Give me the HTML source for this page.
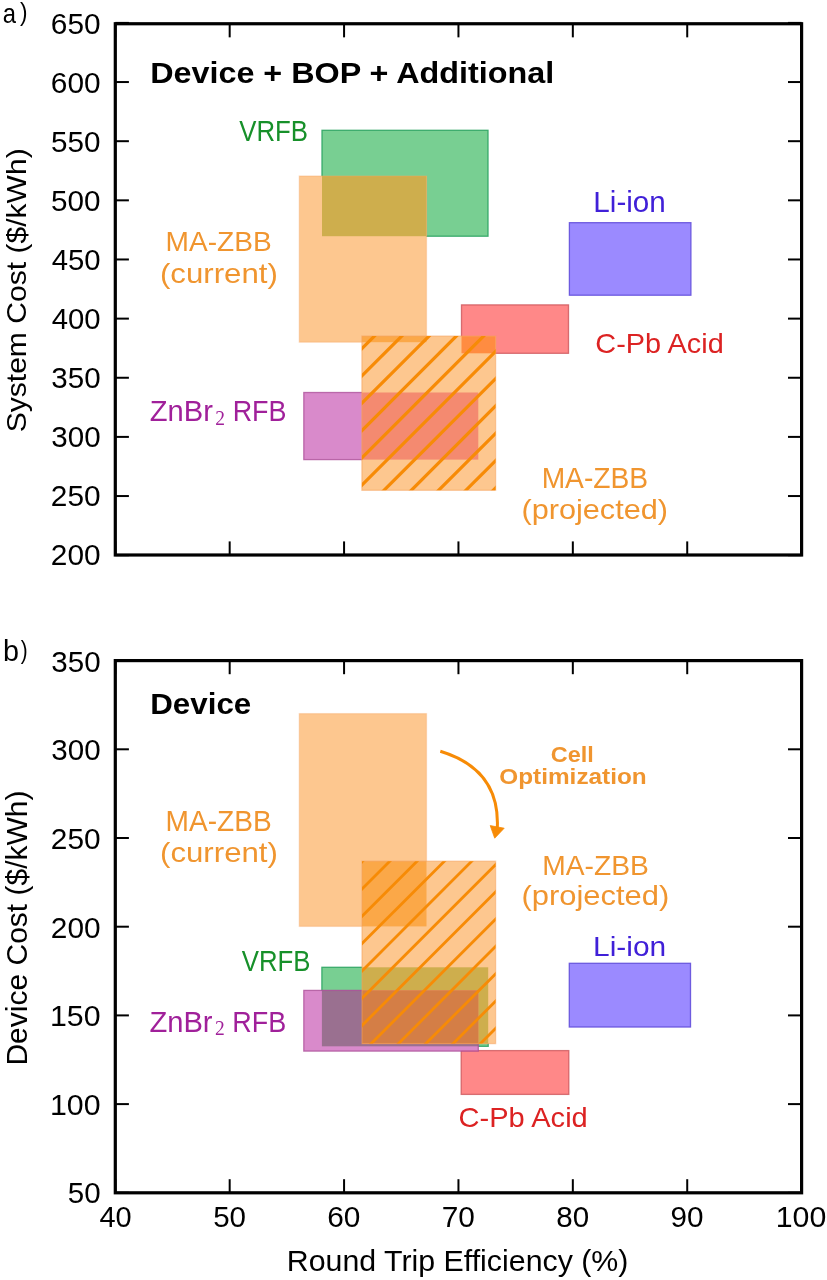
<!DOCTYPE html>
<html><head><meta charset="utf-8"><title>Cost vs Round Trip Efficiency</title>
<style>html,body{margin:0;padding:0;background:#fff;} svg{display:block;filter:blur(0.45px);}</style>
</head><body>
<svg width="827" height="1280" viewBox="0 0 827 1280">
<rect width="827" height="1280" fill="#fff"/>
<defs></defs>
<rect x="569.40" y="222.70" width="121.50" height="72.50" fill="rgb(155, 138, 255)"/>
<rect x="569.40" y="222.70" width="121.50" height="72.50" fill="none" stroke="rgb(100, 80, 220)" stroke-opacity="0.9" stroke-width="1.3"/>
<rect x="461.50" y="304.90" width="107.00" height="48.40" fill="rgb(255, 136, 136)"/>
<rect x="461.50" y="304.90" width="107.00" height="48.40" fill="none" stroke="rgb(205, 85, 90)" stroke-opacity="0.8" stroke-width="1.3"/>
<rect x="322.00" y="130.30" width="166.00" height="105.90" fill="rgb(120, 207, 146)"/>
<rect x="322.00" y="130.30" width="166.00" height="105.90" fill="none" stroke="rgb(45, 165, 100)" stroke-opacity="0.9" stroke-width="1.3"/>
<rect x="303.80" y="392.50" width="174.50" height="67.10" fill="rgb(217, 138, 203)"/>
<rect x="303.80" y="392.50" width="174.50" height="67.10" fill="none" stroke="rgb(170, 75, 150)" stroke-opacity="0.75" stroke-width="1.3"/>
<rect x="299.30" y="176.00" width="127.20" height="166.20" fill="rgb(253, 199, 143)"/>
<rect x="322.00" y="176.00" width="104.50" height="60.20" fill="rgb(206, 174, 77)"/>
<rect x="299.30" y="176.00" width="127.20" height="166.20" fill="none" stroke="rgb(245, 165, 100)" stroke-opacity="0.35" stroke-width="1.3"/>
<rect x="361.90" y="336.10" width="133.70" height="154.20" fill="rgb(253, 199, 143)"/>
<rect x="461.50" y="336.10" width="34.10" height="17.20" fill="rgb(255, 140, 65)"/>
<rect x="361.90" y="392.50" width="116.40" height="67.10" fill="rgb(244, 138, 112)"/>
<rect x="361.90" y="336.10" width="64.60" height="6.10" fill="rgb(251, 168, 72)"/>
<rect x="361.90" y="336.10" width="133.70" height="154.20" fill="none" stroke="rgb(245, 160, 90)" stroke-opacity="0.5" stroke-width="1.3"/>
<clipPath id="ha"><rect x="361.90" y="336.10" width="133.70" height="154.20"/></clipPath>
<g clip-path="url(#ha)" stroke="#f78b06" stroke-width="3.2">
<line x1="187.90" y1="495.30" x2="352.10" y2="331.10"/>
<line x1="215.20" y1="495.30" x2="379.40" y2="331.10"/>
<line x1="242.50" y1="495.30" x2="406.70" y2="331.10"/>
<line x1="269.80" y1="495.30" x2="434.00" y2="331.10"/>
<line x1="297.10" y1="495.30" x2="461.30" y2="331.10"/>
<line x1="324.40" y1="495.30" x2="488.60" y2="331.10"/>
<line x1="351.70" y1="495.30" x2="515.90" y2="331.10"/>
<line x1="379.00" y1="495.30" x2="543.20" y2="331.10"/>
<line x1="406.30" y1="495.30" x2="570.50" y2="331.10"/>
<line x1="433.60" y1="495.30" x2="597.80" y2="331.10"/>
<line x1="460.90" y1="495.30" x2="625.10" y2="331.10"/>
<line x1="488.20" y1="495.30" x2="652.40" y2="331.10"/>
<line x1="515.50" y1="495.30" x2="679.70" y2="331.10"/>
</g>
<rect x="569.30" y="963.30" width="121.20" height="63.70" fill="rgb(155, 138, 255)"/>
<rect x="569.30" y="963.30" width="121.20" height="63.70" fill="none" stroke="rgb(100, 80, 220)" stroke-opacity="0.9" stroke-width="1.3"/>
<rect x="461.20" y="1050.60" width="107.60" height="43.80" fill="rgb(255, 136, 136)"/>
<rect x="461.20" y="1050.60" width="107.60" height="43.80" fill="none" stroke="rgb(205, 85, 90)" stroke-opacity="0.8" stroke-width="1.3"/>
<rect x="321.90" y="967.30" width="166.30" height="79.00" fill="rgb(120, 207, 146)"/>
<rect x="321.90" y="967.30" width="166.30" height="79.00" fill="none" stroke="rgb(45, 165, 100)" stroke-opacity="0.9" stroke-width="1.3"/>
<rect x="303.80" y="990.40" width="174.50" height="60.70" fill="rgb(217, 138, 203)"/>
<rect x="461.20" y="1050.60" width="17.10" height="0.50" fill="rgb(235, 100, 125)"/>
<rect x="321.90" y="990.40" width="156.40" height="55.90" fill="rgb(154, 112, 144)"/>
<rect x="303.80" y="990.40" width="174.50" height="60.70" fill="none" stroke="rgb(170, 75, 150)" stroke-opacity="0.75" stroke-width="1.3"/>
<rect x="299.30" y="713.60" width="127.20" height="212.80" fill="rgb(253, 199, 143)"/>
<rect x="299.30" y="713.60" width="127.20" height="212.80" fill="none" stroke="rgb(245, 165, 100)" stroke-opacity="0.35" stroke-width="1.3"/>
<rect x="362.00" y="861.20" width="133.60" height="182.40" fill="rgb(253, 199, 143)"/>
<rect x="362.00" y="967.30" width="126.20" height="76.30" fill="rgb(206, 174, 77)"/>
<rect x="362.00" y="990.40" width="116.30" height="53.20" fill="rgb(244, 138, 112)"/>
<rect x="362.00" y="861.20" width="64.50" height="65.20" fill="rgb(251, 168, 72)"/>
<rect x="362.00" y="990.40" width="116.30" height="53.20" fill="rgb(212, 126, 70)"/>
<rect x="362.00" y="861.20" width="133.60" height="182.40" fill="none" stroke="rgb(245, 160, 90)" stroke-opacity="0.5" stroke-width="1.3"/>
<clipPath id="hb"><rect x="362.00" y="861.20" width="133.60" height="182.40"/></clipPath>
<g clip-path="url(#hb)" stroke="#f78b06" stroke-width="2.8">
<line x1="147.80" y1="1048.60" x2="340.20" y2="856.20"/>
<line x1="175.10" y1="1048.60" x2="367.50" y2="856.20"/>
<line x1="202.40" y1="1048.60" x2="394.80" y2="856.20"/>
<line x1="229.70" y1="1048.60" x2="422.10" y2="856.20"/>
<line x1="257.00" y1="1048.60" x2="449.40" y2="856.20"/>
<line x1="284.30" y1="1048.60" x2="476.70" y2="856.20"/>
<line x1="311.60" y1="1048.60" x2="504.00" y2="856.20"/>
<line x1="338.90" y1="1048.60" x2="531.30" y2="856.20"/>
<line x1="366.20" y1="1048.60" x2="558.60" y2="856.20"/>
<line x1="393.50" y1="1048.60" x2="585.90" y2="856.20"/>
<line x1="420.80" y1="1048.60" x2="613.20" y2="856.20"/>
<line x1="448.10" y1="1048.60" x2="640.50" y2="856.20"/>
<line x1="475.40" y1="1048.60" x2="667.80" y2="856.20"/>
<line x1="502.70" y1="1048.60" x2="695.10" y2="856.20"/>
</g>
<path d="M440.3,751.2 C484,764.5 499,793 497.3,828" fill="none" stroke="#f78b06" stroke-width="3.0"/><path d="M490.2,825.6 L504.2,828.2 L494.7,838.2 Z" fill="#f78b06" stroke="#f78b06" stroke-width="0.8" stroke-linejoin="miter"/>
<g stroke="#000" stroke-width="2.0"><line x1="115.30" y1="23.75" x2="115.30" y2="37.35"/><line x1="115.30" y1="555.00" x2="115.30" y2="541.40"/><line x1="229.68" y1="23.75" x2="229.68" y2="37.35"/><line x1="229.68" y1="555.00" x2="229.68" y2="541.40"/><line x1="344.07" y1="23.75" x2="344.07" y2="37.35"/><line x1="344.07" y1="555.00" x2="344.07" y2="541.40"/><line x1="458.45" y1="23.75" x2="458.45" y2="37.35"/><line x1="458.45" y1="555.00" x2="458.45" y2="541.40"/><line x1="572.83" y1="23.75" x2="572.83" y2="37.35"/><line x1="572.83" y1="555.00" x2="572.83" y2="541.40"/><line x1="687.22" y1="23.75" x2="687.22" y2="37.35"/><line x1="687.22" y1="555.00" x2="687.22" y2="541.40"/><line x1="801.60" y1="23.75" x2="801.60" y2="37.35"/><line x1="801.60" y1="555.00" x2="801.60" y2="541.40"/><line x1="115.30" y1="555.19" x2="128.90" y2="555.19"/><line x1="801.60" y1="555.19" x2="788.00" y2="555.19"/><line x1="115.30" y1="496.04" x2="128.90" y2="496.04"/><line x1="801.60" y1="496.04" x2="788.00" y2="496.04"/><line x1="115.30" y1="436.90" x2="128.90" y2="436.90"/><line x1="801.60" y1="436.90" x2="788.00" y2="436.90"/><line x1="115.30" y1="377.76" x2="128.90" y2="377.76"/><line x1="801.60" y1="377.76" x2="788.00" y2="377.76"/><line x1="115.30" y1="318.62" x2="128.90" y2="318.62"/><line x1="801.60" y1="318.62" x2="788.00" y2="318.62"/><line x1="115.30" y1="259.47" x2="128.90" y2="259.47"/><line x1="801.60" y1="259.47" x2="788.00" y2="259.47"/><line x1="115.30" y1="200.33" x2="128.90" y2="200.33"/><line x1="801.60" y1="200.33" x2="788.00" y2="200.33"/><line x1="115.30" y1="141.19" x2="128.90" y2="141.19"/><line x1="801.60" y1="141.19" x2="788.00" y2="141.19"/><line x1="115.30" y1="82.04" x2="128.90" y2="82.04"/><line x1="801.60" y1="82.04" x2="788.00" y2="82.04"/><line x1="115.30" y1="22.90" x2="128.90" y2="22.90"/><line x1="801.60" y1="22.90" x2="788.00" y2="22.90"/></g><rect x="115.30" y="23.75" width="686.30" height="531.25" fill="none" stroke="#000" stroke-width="3.2"/>
<g stroke="#000" stroke-width="2.0"><line x1="115.30" y1="660.60" x2="115.30" y2="674.20"/><line x1="115.30" y1="1192.80" x2="115.30" y2="1179.20"/><line x1="229.68" y1="660.60" x2="229.68" y2="674.20"/><line x1="229.68" y1="1192.80" x2="229.68" y2="1179.20"/><line x1="344.07" y1="660.60" x2="344.07" y2="674.20"/><line x1="344.07" y1="1192.80" x2="344.07" y2="1179.20"/><line x1="458.45" y1="660.60" x2="458.45" y2="674.20"/><line x1="458.45" y1="1192.80" x2="458.45" y2="1179.20"/><line x1="572.83" y1="660.60" x2="572.83" y2="674.20"/><line x1="572.83" y1="1192.80" x2="572.83" y2="1179.20"/><line x1="687.22" y1="660.60" x2="687.22" y2="674.20"/><line x1="687.22" y1="1192.80" x2="687.22" y2="1179.20"/><line x1="801.60" y1="660.60" x2="801.60" y2="674.20"/><line x1="801.60" y1="1192.80" x2="801.60" y2="1179.20"/><line x1="115.30" y1="1192.80" x2="128.90" y2="1192.80"/><line x1="801.60" y1="1192.80" x2="788.00" y2="1192.80"/><line x1="115.30" y1="1104.10" x2="128.90" y2="1104.10"/><line x1="801.60" y1="1104.10" x2="788.00" y2="1104.10"/><line x1="115.30" y1="1015.40" x2="128.90" y2="1015.40"/><line x1="801.60" y1="1015.40" x2="788.00" y2="1015.40"/><line x1="115.30" y1="926.70" x2="128.90" y2="926.70"/><line x1="801.60" y1="926.70" x2="788.00" y2="926.70"/><line x1="115.30" y1="838.00" x2="128.90" y2="838.00"/><line x1="801.60" y1="838.00" x2="788.00" y2="838.00"/><line x1="115.30" y1="749.30" x2="128.90" y2="749.30"/><line x1="801.60" y1="749.30" x2="788.00" y2="749.30"/><line x1="115.30" y1="660.60" x2="128.90" y2="660.60"/><line x1="801.60" y1="660.60" x2="788.00" y2="660.60"/></g><rect x="115.30" y="660.60" width="686.30" height="532.20" fill="none" stroke="#000" stroke-width="3.2"/>
<text x="2.65" y="23.20" font-family='"Liberation Sans", sans-serif' font-weight="normal" font-size="28.15" fill="#000" textLength="13.26" lengthAdjust="spacingAndGlyphs">a</text>
<text x="19.89" y="20.90" font-family='"Liberation Sans", sans-serif' font-weight="normal" font-size="25.79" fill="#000" textLength="7.52" lengthAdjust="spacingAndGlyphs">)</text>
<text x="3.07" y="661.20" font-family='"Liberation Sans", sans-serif' font-weight="normal" font-size="28.69" fill="#000" textLength="16.01" lengthAdjust="spacingAndGlyphs">b</text>
<text x="20.70" y="659.10" font-family='"Liberation Sans", sans-serif' font-weight="normal" font-size="25.79" fill="#000" textLength="6.91" lengthAdjust="spacingAndGlyphs">)</text>
<text x="50.81" y="565.15" font-family='"Liberation Sans", sans-serif' font-weight="normal" font-size="29.00" fill="#000" textLength="49.77" lengthAdjust="spacingAndGlyphs">200</text>
<text x="50.81" y="506.15" font-family='"Liberation Sans", sans-serif' font-weight="normal" font-size="29.00" fill="#000" textLength="49.77" lengthAdjust="spacingAndGlyphs">250</text>
<text x="51.27" y="447.15" font-family='"Liberation Sans", sans-serif' font-weight="normal" font-size="29.00" fill="#000" textLength="49.30" lengthAdjust="spacingAndGlyphs">300</text>
<text x="51.27" y="388.15" font-family='"Liberation Sans", sans-serif' font-weight="normal" font-size="29.00" fill="#000" textLength="49.30" lengthAdjust="spacingAndGlyphs">350</text>
<text x="51.71" y="329.15" font-family='"Liberation Sans", sans-serif' font-weight="normal" font-size="29.00" fill="#000" textLength="48.84" lengthAdjust="spacingAndGlyphs">400</text>
<text x="51.71" y="270.15" font-family='"Liberation Sans", sans-serif' font-weight="normal" font-size="29.00" fill="#000" textLength="48.84" lengthAdjust="spacingAndGlyphs">450</text>
<text x="51.11" y="211.15" font-family='"Liberation Sans", sans-serif' font-weight="normal" font-size="29.00" fill="#000" textLength="49.46" lengthAdjust="spacingAndGlyphs">500</text>
<text x="51.11" y="152.15" font-family='"Liberation Sans", sans-serif' font-weight="normal" font-size="29.00" fill="#000" textLength="49.46" lengthAdjust="spacingAndGlyphs">550</text>
<text x="50.81" y="93.15" font-family='"Liberation Sans", sans-serif' font-weight="normal" font-size="29.00" fill="#000" textLength="49.77" lengthAdjust="spacingAndGlyphs">600</text>
<text x="50.81" y="34.15" font-family='"Liberation Sans", sans-serif' font-weight="normal" font-size="29.00" fill="#000" textLength="49.77" lengthAdjust="spacingAndGlyphs">650</text>
<text x="67.72" y="1203.16" font-family='"Liberation Sans", sans-serif' font-weight="normal" font-size="29.00" fill="#000" textLength="32.85" lengthAdjust="spacingAndGlyphs">50</text>
<text x="50.03" y="1114.62" font-family='"Liberation Sans", sans-serif' font-weight="normal" font-size="29.00" fill="#000" textLength="50.57" lengthAdjust="spacingAndGlyphs">100</text>
<text x="50.03" y="1026.09" font-family='"Liberation Sans", sans-serif' font-weight="normal" font-size="29.00" fill="#000" textLength="50.57" lengthAdjust="spacingAndGlyphs">150</text>
<text x="50.81" y="937.55" font-family='"Liberation Sans", sans-serif' font-weight="normal" font-size="29.00" fill="#000" textLength="49.77" lengthAdjust="spacingAndGlyphs">200</text>
<text x="50.81" y="849.02" font-family='"Liberation Sans", sans-serif' font-weight="normal" font-size="29.00" fill="#000" textLength="49.77" lengthAdjust="spacingAndGlyphs">250</text>
<text x="51.27" y="760.48" font-family='"Liberation Sans", sans-serif' font-weight="normal" font-size="29.00" fill="#000" textLength="49.30" lengthAdjust="spacingAndGlyphs">300</text>
<text x="51.27" y="671.95" font-family='"Liberation Sans", sans-serif' font-weight="normal" font-size="29.00" fill="#000" textLength="49.30" lengthAdjust="spacingAndGlyphs">350</text>
<text x="99.42" y="1227.40" font-family='"Liberation Sans", sans-serif' font-weight="normal" font-size="29.00" fill="#000" textLength="32.23" lengthAdjust="spacingAndGlyphs">40</text>
<text x="213.20" y="1227.40" font-family='"Liberation Sans", sans-serif' font-weight="normal" font-size="29.00" fill="#000" textLength="32.85" lengthAdjust="spacingAndGlyphs">50</text>
<text x="327.28" y="1227.40" font-family='"Liberation Sans", sans-serif' font-weight="normal" font-size="29.00" fill="#000" textLength="33.17" lengthAdjust="spacingAndGlyphs">60</text>
<text x="441.66" y="1227.40" font-family='"Liberation Sans", sans-serif' font-weight="normal" font-size="29.00" fill="#000" textLength="33.17" lengthAdjust="spacingAndGlyphs">70</text>
<text x="556.35" y="1227.40" font-family='"Liberation Sans", sans-serif' font-weight="normal" font-size="28.79" fill="#000" textLength="32.85" lengthAdjust="spacingAndGlyphs">80</text>
<text x="670.58" y="1227.40" font-family='"Liberation Sans", sans-serif' font-weight="normal" font-size="29.00" fill="#000" textLength="33.01" lengthAdjust="spacingAndGlyphs">90</text>
<text x="775.73" y="1227.40" font-family='"Liberation Sans", sans-serif' font-weight="normal" font-size="29.00" fill="#000" textLength="50.57" lengthAdjust="spacingAndGlyphs">100</text>
<text transform="translate(26.00,432.35) rotate(-90)" font-family='"Liberation Sans", sans-serif' font-weight="normal" font-size="28.51" fill="#000" textLength="284.10" lengthAdjust="spacingAndGlyphs">System Cost ($/kWh)</text>
<text transform="translate(26.60,1065.60) rotate(-90)" font-family='"Liberation Sans", sans-serif' font-weight="normal" font-size="29.86" fill="#000" textLength="275.14" lengthAdjust="spacingAndGlyphs">Device Cost ($/kWh)</text>
<text x="286.78" y="1271.30" font-family='"Liberation Sans", sans-serif' font-weight="normal" font-size="29.42" fill="#000" textLength="341.68" lengthAdjust="spacingAndGlyphs">Round Trip Efficiency (%)</text>
<text x="150.21" y="82.90" font-family='"Liberation Sans", sans-serif' font-weight="bold" font-size="30.29" fill="#000" textLength="403.97" lengthAdjust="spacingAndGlyphs">Device + BOP + Additional</text>
<text x="150.26" y="714.00" font-family='"Liberation Sans", sans-serif' font-weight="bold" font-size="30.00" fill="#000" textLength="101.01" lengthAdjust="spacingAndGlyphs">Device</text>
<text x="239.25" y="141.00" font-family='"Liberation Sans", sans-serif' font-weight="normal" font-size="29.13" fill="#17902a" textLength="68.79" lengthAdjust="spacingAndGlyphs">VRFB</text>
<text x="165.55" y="251.30" font-family='"Liberation Sans", sans-serif' font-weight="normal" font-size="28.12" fill="#f0952f" textLength="106.11" lengthAdjust="spacingAndGlyphs">MA-ZBB</text>
<text x="159.98" y="283.20" font-family='"Liberation Sans", sans-serif' font-weight="normal" font-size="28.04" fill="#f0952f" textLength="117.93" lengthAdjust="spacingAndGlyphs">(current)</text>
<text x="593.33" y="212.40" font-family='"Liberation Sans", sans-serif' font-weight="normal" font-size="29.42" fill="#4020d8" textLength="72.48" lengthAdjust="spacingAndGlyphs">Li-ion</text>
<text x="595.37" y="352.90" font-family='"Liberation Sans", sans-serif' font-weight="normal" font-size="27.71" fill="#dc2222" textLength="128.37" lengthAdjust="spacingAndGlyphs">C-Pb Acid</text>
<text x="149.73" y="421.00" font-family='"Liberation Sans", sans-serif' font-weight="normal" font-size="29.57" fill="#a0209a" textLength="63.15" lengthAdjust="spacingAndGlyphs">ZnBr</text>
<text x="215.22" y="424.80" font-family='"Liberation Serif", serif' font-weight="normal" font-size="20.91" fill="#a0209a" textLength="9.75" lengthAdjust="spacingAndGlyphs">2</text>
<text x="232.65" y="421.00" font-family='"Liberation Sans", sans-serif' font-weight="normal" font-size="29.57" fill="#a0209a" textLength="53.85" lengthAdjust="spacingAndGlyphs">RFB</text>
<text x="541.64" y="487.70" font-family='"Liberation Sans", sans-serif' font-weight="normal" font-size="28.99" fill="#f0952f" textLength="106.52" lengthAdjust="spacingAndGlyphs">MA-ZBB</text>
<text x="521.46" y="518.80" font-family='"Liberation Sans", sans-serif' font-weight="normal" font-size="28.04" fill="#f0952f" textLength="146.52" lengthAdjust="spacingAndGlyphs">(projected)</text>
<text x="550.76" y="761.80" font-family='"Liberation Sans", sans-serif' font-weight="bold" font-size="21.43" fill="#f0952f" textLength="43.03" lengthAdjust="spacingAndGlyphs">Cell</text>
<text x="499.33" y="784.30" font-family='"Liberation Sans", sans-serif' font-weight="bold" font-size="21.86" fill="#f0952f" textLength="147.35" lengthAdjust="spacingAndGlyphs">Optimization</text>
<text x="165.55" y="830.50" font-family='"Liberation Sans", sans-serif' font-weight="normal" font-size="29.42" fill="#f0952f" textLength="106.11" lengthAdjust="spacingAndGlyphs">MA-ZBB</text>
<text x="160.03" y="861.90" font-family='"Liberation Sans", sans-serif' font-weight="normal" font-size="28.04" fill="#f0952f" textLength="117.88" lengthAdjust="spacingAndGlyphs">(current)</text>
<text x="542.24" y="874.50" font-family='"Liberation Sans", sans-serif' font-weight="normal" font-size="28.41" fill="#f0952f" textLength="106.63" lengthAdjust="spacingAndGlyphs">MA-ZBB</text>
<text x="521.45" y="905.40" font-family='"Liberation Sans", sans-serif' font-weight="normal" font-size="28.04" fill="#f0952f" textLength="147.75" lengthAdjust="spacingAndGlyphs">(projected)</text>
<text x="593.11" y="956.00" font-family='"Liberation Sans", sans-serif' font-weight="normal" font-size="28.26" fill="#4020d8" textLength="73.12" lengthAdjust="spacingAndGlyphs">Li-ion</text>
<text x="241.75" y="970.70" font-family='"Liberation Sans", sans-serif' font-weight="normal" font-size="29.57" fill="#17902a" textLength="68.79" lengthAdjust="spacingAndGlyphs">VRFB</text>
<text x="149.43" y="1031.50" font-family='"Liberation Sans", sans-serif' font-weight="normal" font-size="29.86" fill="#a0209a" textLength="63.15" lengthAdjust="spacingAndGlyphs">ZnBr</text>
<text x="214.92" y="1035.30" font-family='"Liberation Serif", serif' font-weight="normal" font-size="20.91" fill="#a0209a" textLength="9.75" lengthAdjust="spacingAndGlyphs">2</text>
<text x="232.34" y="1031.50" font-family='"Liberation Sans", sans-serif' font-weight="normal" font-size="29.86" fill="#a0209a" textLength="53.96" lengthAdjust="spacingAndGlyphs">RFB</text>
<text x="458.57" y="1126.80" font-family='"Liberation Sans", sans-serif' font-weight="normal" font-size="27.43" fill="#dc2222" textLength="129.19" lengthAdjust="spacingAndGlyphs">C-Pb Acid</text>
</svg>
</body></html>
